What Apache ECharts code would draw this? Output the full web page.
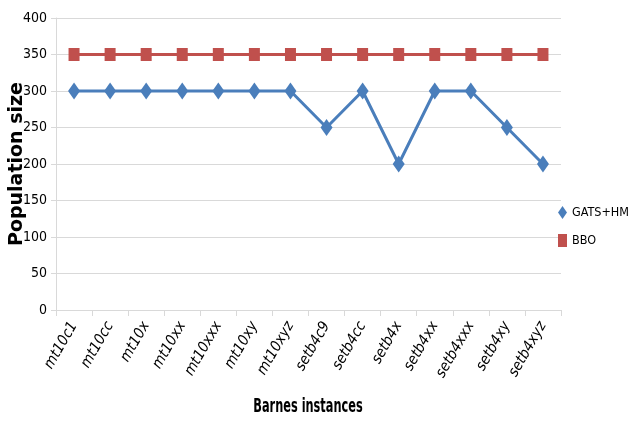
<!DOCTYPE html>
<html>
<head>
<meta charset="utf-8">
<script src="https://cdn.jsdelivr.net/npm/echarts@6/dist/echarts.min.js"></script>
<style>
  html, body { margin: 0; padding: 0; background: #fff; }
  #chart { width: 628px; height: 421px; }
</style>
</head>
<body>
<div id="chart"></div>
<script>
// Barnes instances and population sizes per algorithm
const instances = ['mt10c1', 'mt10cc', 'mt10x', 'mt10xx', 'mt10xxx', 'mt10xy', 'mt10xyz',
  'setb4c9', 'setb4cc', 'setb4x', 'setb4xx', 'setb4xxx', 'setb4xy', 'setb4xyz'];
const gatsHm = [300, 300, 300, 300, 300, 300, 300, 250, 300, 200, 300, 300, 250, 200];
const bbo = [350, 350, 350, 350, 350, 350, 350, 350, 350, 350, 350, 350, 350, 350];
const yTicks = { min: 0, max: 400, interval: 50 };

const narrow = '"DejaVu Sans Condensed", sans-serif';
const chart = echarts.init(document.getElementById('chart'));
chart.setOption({
  animation: false,
  grid: { left: 56, top: 18, width: 505, height: 292, containLabel: false, outerBoundsMode: 'none' },
  legend: {
    orient: 'vertical',
    left: 558,
    top: 206,
    padding: 0,
    itemGap: 15,
    itemWidth: 9,
    itemHeight: 13,
    textStyle: { fontFamily: narrow, fontSize: 12.5, color: '#000' },
    data: [
      { name: 'GATS+HM', icon: 'diamond' },
      { name: 'BBO', icon: 'rect' }
    ]
  },
  graphic: [
    {
      // x-axis title, drawn narrow and tall
      type: 'text',
      x: 308,
      y: 407,
      scaleX: 0.63,
      style: {
        text: 'Barnes instances',
        font: 'bold 20px "DejaVu Sans Condensed", sans-serif',
        fill: '#000',
        textAlign: 'center',
        textVerticalAlign: 'middle'
      }
    }
  ],
  xAxis: {
    type: 'category',
    data: instances,
    boundaryGap: true,
    axisLine: { lineStyle: { color: '#d9d9d9', width: 1 } },
    axisTick: { show: true, alignWithLabel: false, length: 6, lineStyle: { color: '#d9d9d9' } },
    axisLabel: {
      rotate: 60,
      interval: 0,
      margin: 13,
      fontFamily: narrow,
      fontStyle: 'italic',
      fontSize: 15,
      color: '#000'
    }
  },
  yAxis: {
    type: 'value',
    min: yTicks.min,
    max: yTicks.max,
    interval: yTicks.interval,
    name: 'Population size',
    nameLocation: 'middle',
    nameGap: 29,
    nameMoveOverlap: false,
    nameTextStyle: { fontFamily: '"DejaVu Sans", sans-serif', fontSize: 19, fontWeight: 'bold', color: '#000' },
    axisLine: { show: true, lineStyle: { color: '#d9d9d9' } },
    axisTick: { show: true, length: 5, inside: false, lineStyle: { color: '#d9d9d9' } },
    axisLabel: { fontFamily: narrow, fontSize: 14, color: '#000', margin: 9 },
    splitLine: { lineStyle: { color: '#d9d9d9', width: 1 } }
  },
  series: [
    {
      name: 'GATS+HM',
      type: 'line',
      data: gatsHm,
      symbol: 'diamond',
      symbolSize: [12, 17],
      lineStyle: { color: '#4a7ebb', width: 3 },
      itemStyle: { color: '#4a7ebb' }
    },
    {
      name: 'BBO',
      type: 'line',
      data: bbo,
      symbol: 'rect',
      symbolSize: [11, 13],
      lineStyle: { color: '#c0504d', width: 3 },
      itemStyle: { color: '#c0504d' }
    }
  ]
});
</script>
</body>
</html>
